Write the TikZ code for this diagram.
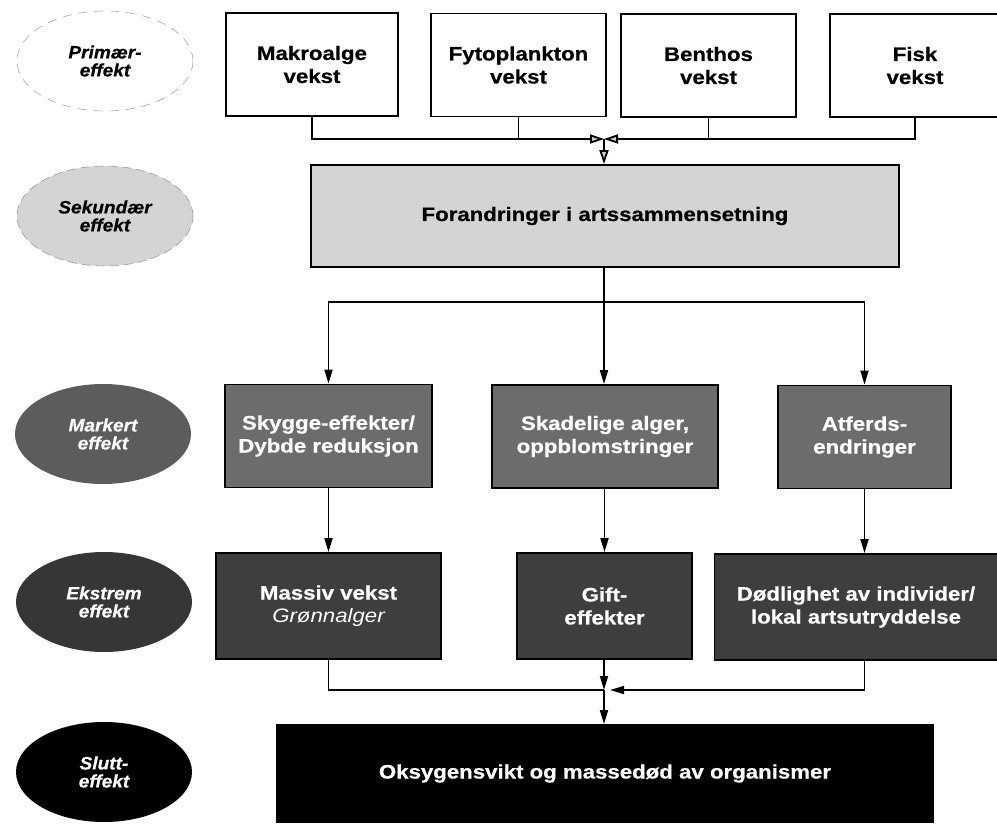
\documentclass[tikz,border=0pt]{standalone}
\usepackage{fontspec}
\setmainfont{Liberation Sans}
\newfontfamily\wideface[FakeStretch=1.14, BoldFeatures={FakeBold=0.6}]{Liberation Sans}
\newfontfamily\ellface[FakeStretch=1.06, BoldItalicFeatures={FakeBold=0.5}]{Liberation Sans}
\usetikzlibrary{arrows.meta,shapes.geometric}
\definecolor{lightfill}{HTML}{D4D4D4}
\definecolor{midfill}{HTML}{6C6C6C}
\definecolor{darkfill}{HTML}{3E3E3E}
\definecolor{ellmid}{HTML}{5C5C5C}
\definecolor{elldark}{HTML}{363636}
\tikzset{
  every node/.style={inner sep=0pt, align=center},
  boxfont/.style={font=\wideface\bfseries\fontsize{19.5}{23}\selectfont},
  ellfont/.style={font=\ellface\bfseries\itshape\fontsize{18}{18}\selectfont},
  box/.style={draw=black, line width=1.8pt, boxfont, minimum width=#1},
  topbox/.style={box=#1, fill=white, text=black, minimum height=103pt},
  secbox/.style={box=#1, fill=lightfill, text=black, minimum height=102pt},
  markbox/.style={box=#1, fill=midfill, text=white, minimum height=103pt},
  ekbox/.style={box=#1, fill=darkfill, text=white, minimum height=106pt},
  endbox/.style={box=#1, fill=black, text=white, minimum height=97pt},
  ell/.style={ellipse, ellfont, minimum width=176pt, minimum height=100pt},
  line/.style={draw=black, line width=1.8pt},
  arr/.style={line, -{Triangle[length=14pt,width=8pt]}},
  toparr/.style={line, -{Triangle[length=14pt,width=9pt,fill=gray!40]}}
}
\begin{document}
\begin{tikzpicture}[x=1pt,y=-1pt]
\useasboundingbox (0,0) rectangle (997,824);
% ellipses
\node[ell, draw=gray!70, line width=0.6pt, dash pattern=on 9pt off 7pt] (e1) at (105,61) {Primær-\\effekt};
\node[ell, fill=lightfill, draw=gray!80, line width=0.6pt, dash pattern=on 9pt off 5pt] (e2) at (105,216) {Sekundær\\effekt};
\node[ell, fill=ellmid, text=white] (e3) at (103,434) {Markert\\effekt};
\node[ell, fill=elldark, text=white] (e4) at (104,602) {Ekstrem\\effekt};
\node[ell, fill=black, text=white] (e5) at (104,772) {Slutt-\\effekt};
% top boxes
\node[topbox=172pt] (mak) at (312,64.5) {Makroalge\\vekst};
\node[topbox=175pt] (fyt) at (518.5,65) {Fytoplankton\\vekst};
\node[topbox=175pt] (ben) at (708.5,65.5) {Benthos\\vekst};
\node[topbox=170pt] (fis) at (915,65.5) {Fisk\\vekst};
% secondary
\node[secbox=588pt] (for) at (605,216) {Forandringer i artssammensetning};
% markert
\node[markbox=207pt] (sky) at (328.5,436) {Skygge-effekter/\\Dybde reduksjon};
\node[markbox=226pt] (ska) at (605,436.5) {Skadelige alger,\\oppblomstringer};
\node[markbox=173pt] (atf) at (864.5,437) {Atferds-\\endringer};
% ekstrem
\node[ekbox=225pt] (mas) at (328.5,606) {Massiv vekst\\{\mdseries\itshape Grønnalger}};
\node[ekbox=175pt] (gif) at (604.5,606) {Gift-\\effekter};
\node[ekbox=283pt] (dod) at (856,607) {Dødlighet av individer/\\lokal artsutryddelse};
% end
\node[endbox=656pt] (oks) at (605,773.5) {Oksygensvikt og massedød av organismer};
% junctions
\coordinate (jt) at (604,139);
\coordinate (br) at (604,302);
\coordinate (jb) at (604,690);
% top connectors
\draw[line] (fyt.south) -- (fyt.south |- jt);
\draw[line] (ben.south) -- (ben.south |- jt);
\draw[toparr] (mak.south) |- (jt);
\draw[toparr] (fis.south) |- (jt);
\draw[toparr] (jt) -- (jt |- for.north);
% middle connectors
\draw[line] (for.south -| br) -- (br);
\draw[arr] (br) -| (sky.north);
\draw[arr] (br) -- (br |- ska.north);
\draw[arr] (br) -| (atf.north);
\draw[arr] (sky.south) -- (sky.south |- mas.north);
\draw[arr] (ska.south -| gif.north) -- (gif.north);
\draw[arr] (atf.south) -- (atf.south |- dod.north);
% bottom connectors
\draw[line] (mas.south) |- (jb);
\draw[arr] (gif.south -| jb) -- (jb);
\draw[arr, shorten >=6pt] (dod.south -| atf.south) |- (jb);
\draw[arr] (jb) -- (jb |- oks.north);
\end{tikzpicture}
\end{document}
